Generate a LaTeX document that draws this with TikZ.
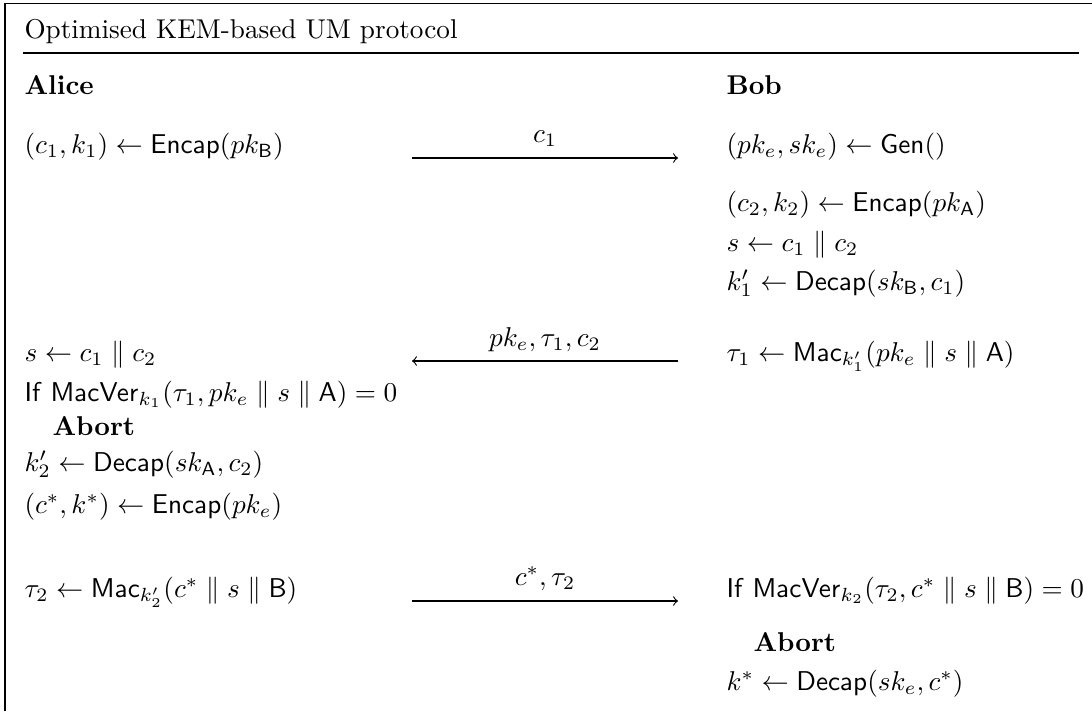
\documentclass[tikz,border=0pt]{standalone}
\usepackage{amsmath,amssymb}
\begin{document}
\begin{tikzpicture}[x=0.3676pt,y=-0.3676pt,
  txt/.style={inner sep=0pt, anchor=base west},
  lbl/.style={inner sep=0pt, anchor=base},
  frame/.style={line width=0.6pt},
  msg/.style={line width=0.4pt,->}]
\useasboundingbox (0,0) rectangle (1092,711);
% frame
\coordinate (fbl) at (5,711);
\coordinate (ftl) at (5,3.5);
\coordinate (ftr) at (1092,3.5);
\draw[frame] (fbl) -- (ftl) -- (ftr);
\node[txt] (title) at (24,38) {Optimised KEM-based UM protocol};
\coordinate (ul) at (23,53);
\coordinate (ur) at (1079,53);
\draw[frame] (ul) -- (ur);
% headers
\node[txt] (alice) at (24,94) {\textbf{Alice}};
\node[txt] (bob) at (726,94) {\textbf{Bob}};
% left column
\node[txt] (L1) at (24,153) {$(c_1, k_1) \leftarrow \mathsf{Encap}(pk_{\mathsf{B}})$};
\node[txt] (L2) at (24,361) {$s \leftarrow c_1 \parallel c_2$};
\node[txt] (L3) at (24,401) {\textsf{If} $\mathsf{MacVer}_{k_1}(\tau_1, pk_e \parallel s \parallel \mathsf{A}) = 0$};
\node[txt] (L4) at (52,435) {\textbf{Abort}};
\node[txt] (L5) at (24,471) {$k_2' \leftarrow \mathsf{Decap}(sk_{\mathsf{A}}, c_2)$};
\node[txt] (L6) at (24,513) {$(c^*, k^*) \leftarrow \mathsf{Encap}(pk_e)$};
\node[txt] (L7) at (24,597) {$\tau_2 \leftarrow \mathsf{Mac}_{k_2'}(c^* \parallel s \parallel \mathsf{B})$};
% right column
\node[txt] (R1) at (726,153) {$(pk_e, sk_e) \leftarrow \mathsf{Gen}()$};
\node[txt] (R2) at (726,211) {$(c_2, k_2) \leftarrow \mathsf{Encap}(pk_{\mathsf{A}})$};
\node[txt] (R3) at (726,251) {$s \leftarrow c_1 \parallel c_2$};
\node[txt] (R4) at (726,290) {$k_1' \leftarrow \mathsf{Decap}(sk_{\mathsf{B}}, c_1)$};
\node[txt] (R5) at (726,361) {$\tau_1 \leftarrow \mathsf{Mac}_{k_1'}(pk_e \parallel s \parallel \mathsf{A})$};
\node[txt] (R6) at (726,597) {\textsf{If} $\mathsf{MacVer}_{k_2}(\tau_2, c^* \parallel s \parallel \mathsf{B}) = 0$};
\node[txt] (R7) at (753,651) {\textbf{Abort}};
\node[txt] (R8) at (726,690) {$k^* \leftarrow \mathsf{Decap}(sk_e, c^*)$};
% messages
\coordinate (m1a) at (412,158);
\coordinate (m1b) at (678,158);
\draw[msg] (m1a) -- (m1b);
\node[lbl] (m1) at (545,142) {$c_1$};
\coordinate (m2a) at (678,361);
\coordinate (m2b) at (412,361);
\draw[msg] (m2a) -- (m2b);
\node[lbl] (m2) at (545,346) {$pk_e, \tau_1, c_2$};
\coordinate (m3a) at (412,601);
\coordinate (m3b) at (678,601);
\draw[msg] (m3a) -- (m3b);
\node[lbl] (m3) at (545,585) {$c^*, \tau_2$};
\end{tikzpicture}
\end{document}
